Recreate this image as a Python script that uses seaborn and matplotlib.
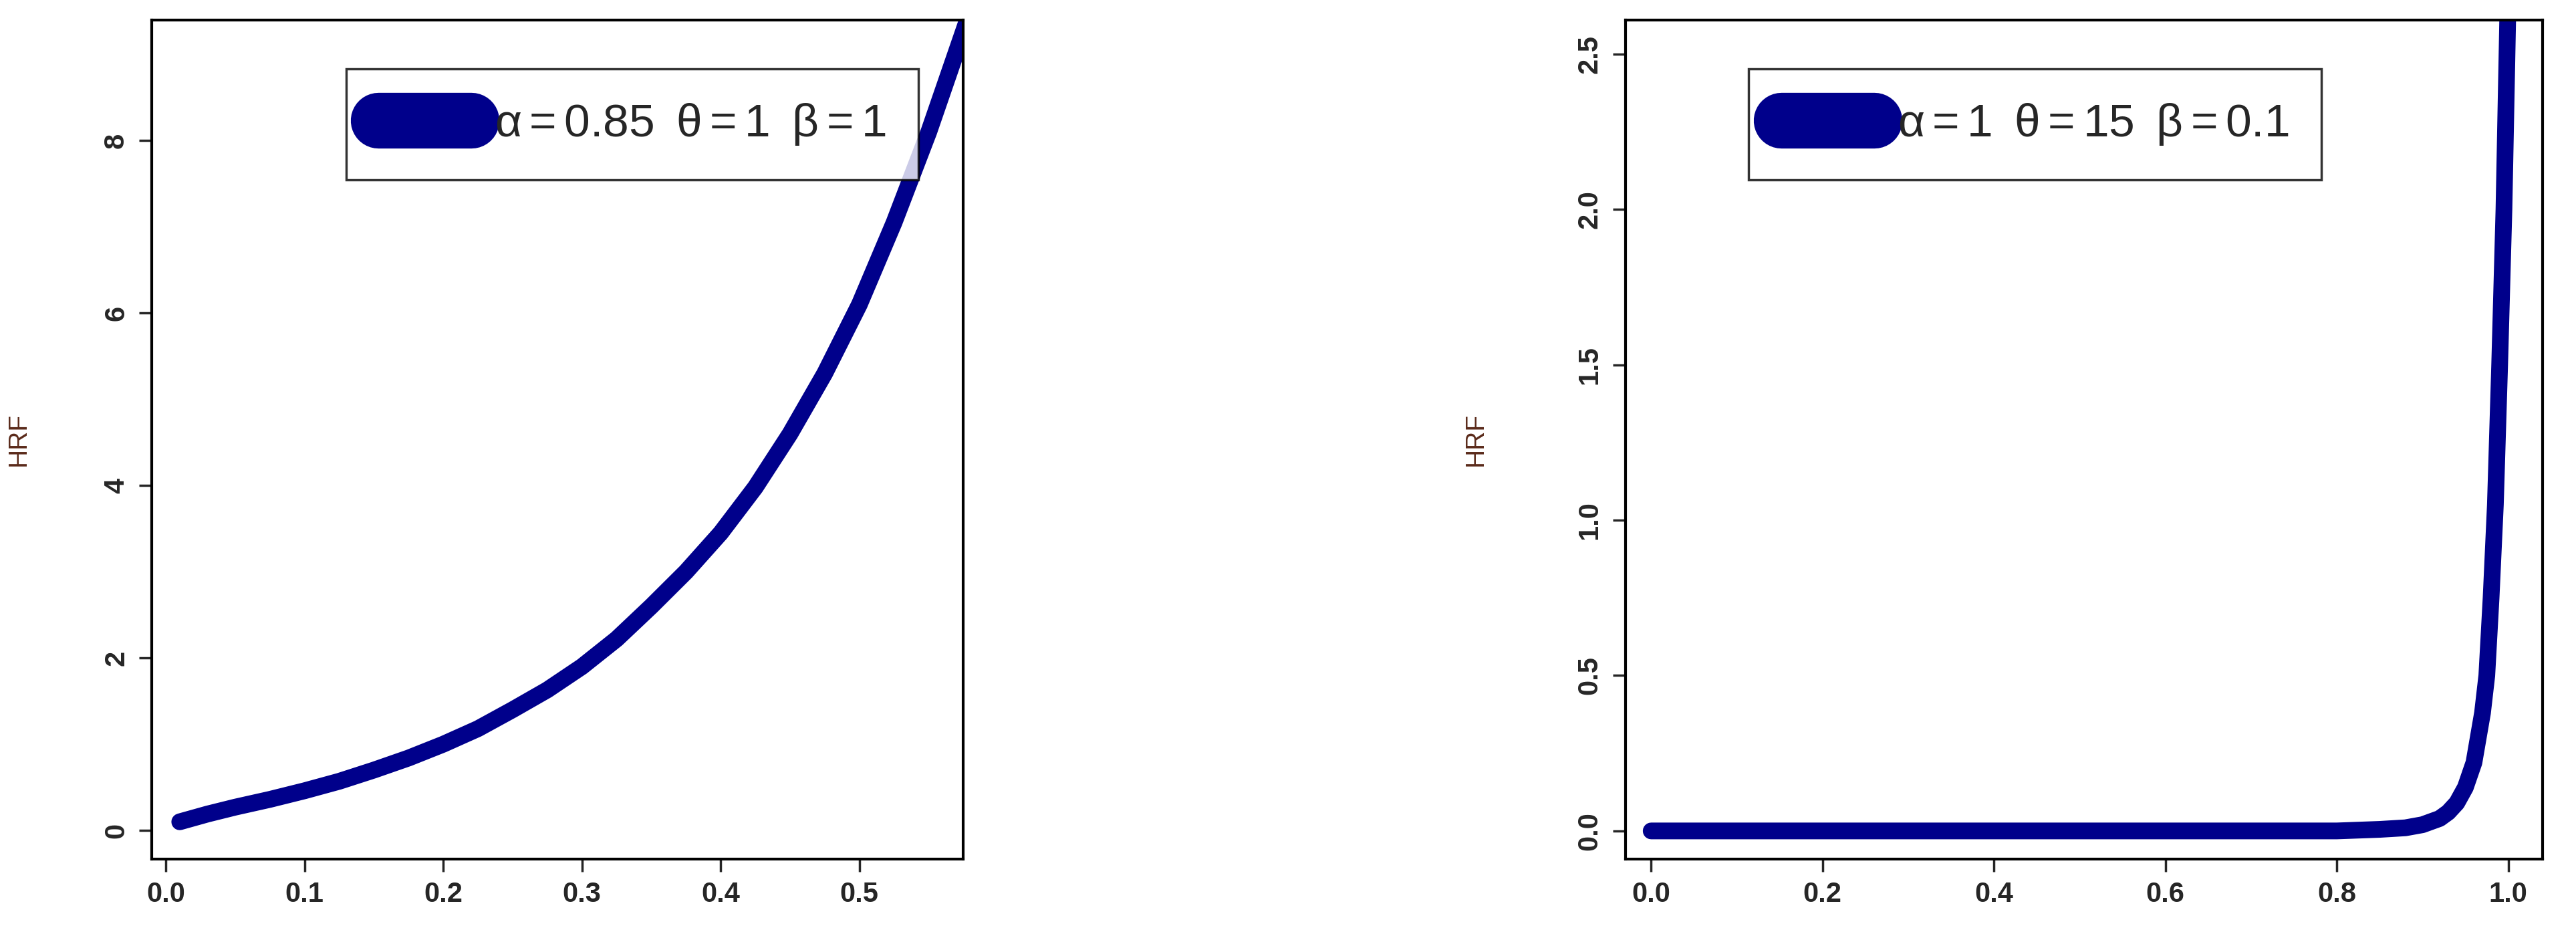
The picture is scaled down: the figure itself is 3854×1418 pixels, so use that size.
import numpy as np
import pandas as pd
import matplotlib
matplotlib.use("Agg")
import matplotlib.pyplot as plt
import seaborn as sns

# === Data ===
x_left = [0.01, 0.03, 0.05, 0.075, 0.1, 0.125, 0.15, 0.175, 0.2, 0.225, 0.25, 0.275, 0.3,
          0.325, 0.35, 0.375, 0.4, 0.425, 0.45, 0.475, 0.5, 0.525, 0.55, 0.565, 0.58]
hrf_left = [0.1, 0.19, 0.27, 0.36, 0.46, 0.57, 0.7, 0.84, 1.0, 1.18, 1.4, 1.63, 1.9,
            2.22, 2.6, 3.0, 3.45, 3.98, 4.6, 5.3, 6.1, 7.05, 8.1, 8.8, 9.5]

x_right = [0.0, 0.2, 0.4, 0.6, 0.8, 0.85, 0.88, 0.9, 0.92, 0.93, 0.94, 0.95, 0.96, 0.97,
           0.975, 0.98, 0.985, 0.99, 0.995, 1.0]
hrf_right = [0.0, 0.0, 0.0, 0.0, 0.0, 0.005, 0.01, 0.02, 0.04, 0.06, 0.09, 0.14, 0.22, 0.38,
             0.5, 0.75, 1.05, 1.5, 2.0, 2.7]

labels = [r"$\alpha = 0.85\;\;\theta = 1\;\;\beta = 1$",
          r"$\alpha = 1\;\;\theta = 15\;\;\beta = 0.1$"]

color = "#00008B"

sns.set_style("white")
plt.rcParams["font.family"] = ["Liberation Sans", "DejaVu Sans"]
plt.rcParams["mathtext.fontset"] = "custom"
plt.rcParams["mathtext.rm"] = "Liberation Sans"
plt.rcParams["mathtext.it"] = "Liberation Sans"

fig = plt.figure(figsize=(38.54, 14.18), dpi=100)
ax1 = fig.add_axes([0.059, 0.094, 0.315, 0.885])
ax2 = fig.add_axes([0.631, 0.094, 0.356, 0.885])

panels = [
    (ax1, x_left, hrf_left, labels[0], (-0.01, 0.575), (-0.33, 9.4), [0, 2, 4, 6, 8], "{:.0f}",
     [0.0, 0.1, 0.2, 0.3, 0.4, 0.5], (0.973, 0.969)),
    (ax2, x_right, hrf_right, labels[1], (-0.03, 1.04), (-0.09, 2.61), [0.0, 0.5, 1.0, 1.5, 2.0, 2.5], "{:.1f}",
     [0.0, 0.2, 0.4, 0.6, 0.8, 1.0], (0.784, 0.969)),
]

for ax, xs, ys, lab, xl, yl, yt, yfmt, xt, anchor in panels:
    df = pd.DataFrame({"x": xs, "HRF": ys})
    sns.lineplot(data=df, x="x", y="HRF", ax=ax, color=color, linewidth=18,
                 solid_capstyle="round", label=lab)
    ax.set_xlim(*xl)
    ax.set_ylim(*yl)
    ax.set_xticks(xt)
    ax.set_xticklabels([f"{v:.1f}" for v in xt], fontsize=30, fontweight="bold")
    ax.set_yticks(yt)
    ax.set_yticklabels([yfmt.format(v) for v in yt], fontsize=30, fontweight="bold",
                       rotation=90, va="center")
    ax.tick_params(length=14, width=2.5, direction="out", bottom=True, left=True, pad=10)
    ax.set_xlabel("")
    ax.set_ylabel("HRF", fontsize=28, color="#5a2a1a")
    ax.yaxis.set_label_coords(-0.15, 0.5)
    for s in ax.spines.values():
        s.set_linewidth(3)
        s.set_color("black")
    leg = ax.legend(loc="upper right", bbox_to_anchor=anchor, fontsize=50,
                    frameon=True, fancybox=False, edgecolor="black",
                    handlelength=2.0, borderpad=0.7, handletextpad=0.5)
    leg.get_frame().set_linewidth(2.5)
    for h in leg.get_lines():
        h.set_linewidth(60)
        h.set_solid_capstyle("round")

fig.savefig("out.png", dpi=100)
